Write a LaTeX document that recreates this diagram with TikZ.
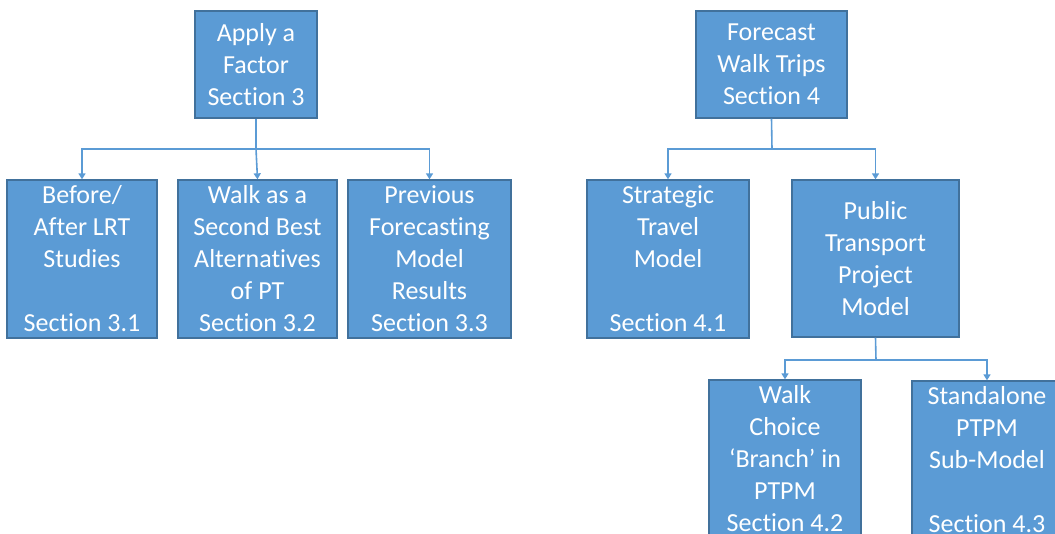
\documentclass[tikz,border=0pt]{standalone}
\usepackage{fontspec}
\setmainfont{Carlito}[Ligatures={NoCommon}]
\usetikzlibrary{arrows.meta}
\definecolor{boxfill}{RGB}{91,155,213}
\definecolor{boxline}{RGB}{65,113,156}
\definecolor{conn}{RGB}{91,155,213}
\tikzset{
  box/.style={draw=boxline, line width=1.3pt, fill=boxfill, text=white, align=center,
    inner sep=0pt, font=\fontsize{26}{32}\selectfont},
  link/.style={draw=conn, line width=1.6pt, -{Triangle[width=7pt,length=6pt]}},
  bar/.style={draw=conn, line width=1.6pt}
}
\begin{document}
\begin{tikzpicture}[x=1pt,y=-1pt]
\useasboundingbox (0,0) rectangle (1055,533);
\clip (0,0) rectangle (1055,533);
% top boxes
\node[box, minimum width=122pt, minimum height=107pt] (apply) at (256,64.5) {Apply a\\Factor\\Section 3};
\node[box, minimum width=151pt, minimum height=107pt] (fore) at (771.5,64.5) {Forecast\\Walk Trips\\Section 4};
% level 2 left
\node[box, minimum width=150pt, minimum height=158pt] (before) at (82,259) {Before/\\After LRT\\Studies\\ \\Section 3.1};
\node[box, minimum width=159pt, minimum height=158pt] (walk) at (257.5,259) {Walk as a\\Second Best\\Alternatives\\of PT\\Section 3.2};
\node[box, minimum width=163pt, minimum height=158pt] (prev) at (429.5,259) {Previous\\Forecasting\\Model\\Results\\Section 3.3};
% level 2 right
\node[box, minimum width=162pt, minimum height=158pt] (strat) at (668,259) {Strategic\\Travel\\Model\\ \\Section 4.1};
\node[box, minimum width=167pt, minimum height=157pt] (pub) at (875.5,258.5) {Public\\Transport\\Project\\Model};
% level 3
\node[box, minimum width=152pt, minimum height=158pt] (wchoice) at (785,459) {Walk\\Choice\\‘Branch’ in\\PTPM\\Section 4.2};
\node[box, minimum width=150pt, minimum height=158pt] (stand) at (987,460) {Standalone\\PTPM\\Sub-Model\\ \\Section 4.3};
% bus coordinates
\coordinate (busA) at (256,149);
\coordinate (busF) at (772,149);
\coordinate (busP) at (876,360);
% connectors left
\draw[bar] (apply.south) -- (busA);
\draw[link] (busA) -| (before.north);
\draw[link] (busA) -- (walk.north);
\draw[link] (busA) -| (prev.north);
% connectors right
\draw[bar] (fore.south) -- (busF);
\draw[link] (busF) -| (strat.north);
\draw[link] (busF) -| (pub.north);
% level 3 connectors
\draw[bar] (pub.south) -- (busP);
\draw[link] (busP) -| (wchoice.north);
\draw[link] (busP) -| (stand.north);
\end{tikzpicture}
\end{document}
